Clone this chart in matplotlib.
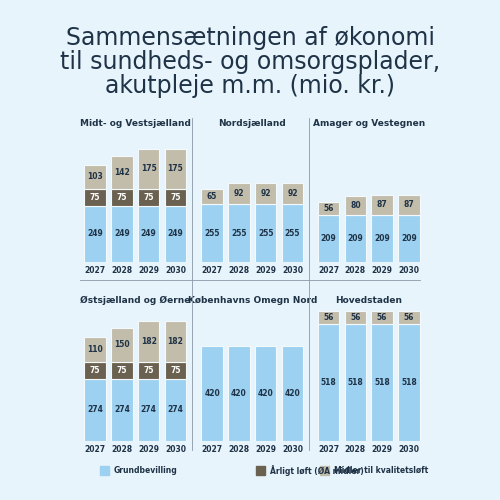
import matplotlib
matplotlib.use("Agg")
import matplotlib.pyplot as plt

years = ["2027", "2028", "2029", "2030"]
regions = ["Midt- og Vestsjælland", "Nordsjælland", "Amager og Vestegnen",
           "Østsjælland og Øerne", "Københavns Omegn Nord", "Hovedstaden"]
grund = [[249]*4, [255]*4, [209]*4, [274]*4, [420]*4, [518]*4]
aarligt = [[75]*4, [0]*4, [0]*4, [75]*4, [0]*4, [0]*4]
midler = [[103, 142, 175, 175], [65, 92, 92, 92], [56, 80, 87, 87],
          [110, 150, 182, 182], [0, 0, 0, 0], [56, 56, 56, 56]]
series_names = ["Grundbevilling", "Årligt løft (ØA midler)", "Midler til kvalitetsløft"]
colors = ["#9dd1f1", "#6b6150", "#c2bcaa"]
bg = "#e8f4fc"
txt = "#1f3347"

fig = plt.figure(figsize=(5, 5), dpi=100, facecolor=bg)
fig.text(0.5, 0.875, "Sammensætningen af økonomi\ntil sundheds- og omsorgsplader,\nakutpleje m.m. (mio. kr.)",
         ha="center", va="center", fontsize=17, color=txt, linespacing=1.0)

lefts = [0.158, 0.392, 0.625]
width = 0.225
bottoms = [0.476, 0.118]
for i, reg in enumerate(regions):
    r, c = divmod(i, 3)
    ax = fig.add_axes([lefts[c], bottoms[r], width, 0.272])
    ax.set_facecolor(bg)
    x = range(4)
    base = [0]*4
    for vals, col, dark in [(grund[i], colors[0], False), (aarligt[i], colors[1], True), (midler[i], colors[2], False)]:
        if max(vals) == 0:
            continue
        ax.bar(x, vals, bottom=base, color=col, width=0.8, edgecolor="#f4f9fc", linewidth=0.8)
        for xi, v, b in zip(x, vals, base):
            ax.text(xi, b + v/2, str(v), ha="center", va="center", fontsize=5.5,
                    fontweight="bold", color="white" if dark else txt)
        base = [b + v for b, v in zip(base, vals)]
    ax.set_ylim(0, 600)
    ax.set_xlim(-0.6, 3.6)
    ax.set_xticks(list(x))
    ax.set_xticklabels(years, fontsize=5.5, fontweight="bold", color=txt)
    ax.tick_params(length=0, pad=3)
    ax.set_yticks([])
    for s in ax.spines.values():
        s.set_visible(False)
    ax.text(0.5, 0.985 if r == 0 else 1.0, reg, transform=ax.transAxes, ha="center", va="bottom",
            fontsize=6.5, fontweight="bold", color=txt)

# separators
for xv in [0.384, 0.617]:
    fig.add_artist(plt.Line2D([xv, xv], [0.10, 0.765], color="#8a99a8", lw=0.6))
fig.add_artist(plt.Line2D([0.16, 0.84], [0.44, 0.44], color="#8a99a8", lw=0.6))

for j, (name, col) in enumerate(zip(series_names, colors)):
    xs = [0.2, 0.512, 0.64][j]
    fig.add_artist(plt.Rectangle((xs, 0.05), 0.018, 0.018, color=col, transform=fig.transFigure))
    fig.text(xs + 0.028, 0.059, name, fontsize=5.5, fontweight="bold", color=txt, va="center")

fig.savefig("out.png", dpi=100, facecolor=bg)
